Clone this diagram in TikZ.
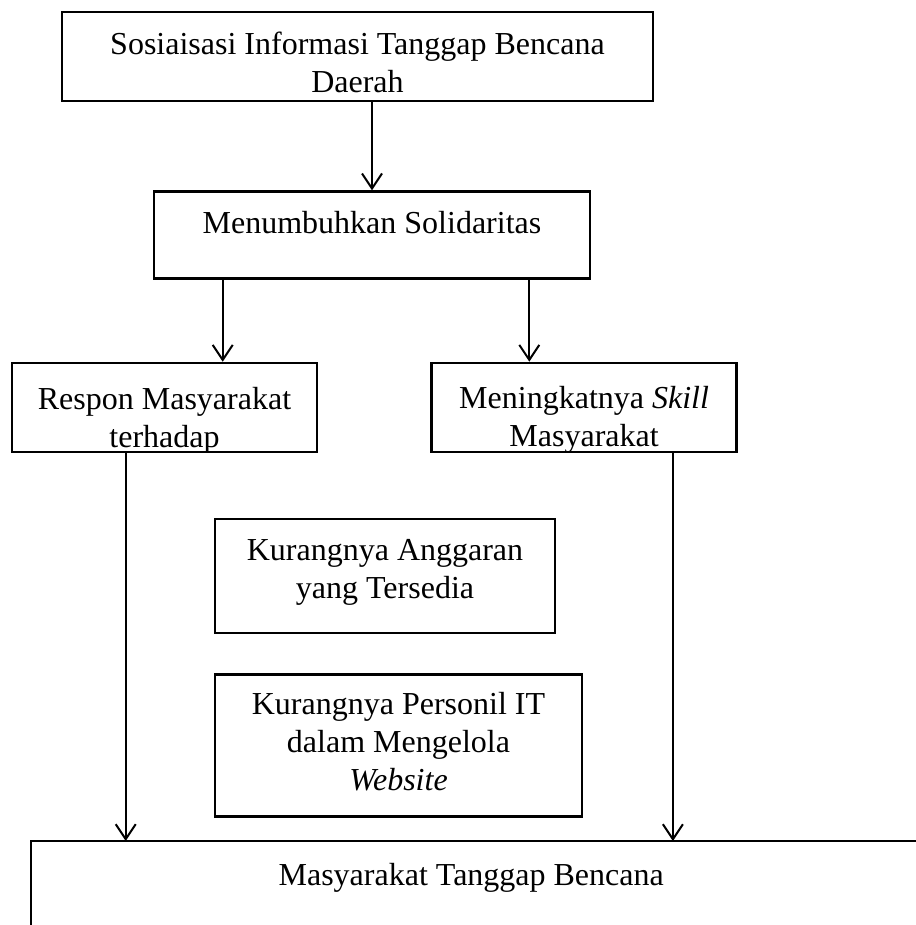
\documentclass[tikz,border=0pt]{standalone}
\usepackage{fontspec}
\setmainfont{Liberation Serif}
\usepackage{tikz}
\usetikzlibrary{arrows.meta,positioning}

\begin{document}
\begin{tikzpicture}[x=1pt,y=1pt,node distance=40pt,>={Straight Barb[length=15pt,width=20pt]}]
  \tikzstyle{boxtext}=[font=\fontsize{32pt}{38pt}\selectfont,align=center,inner sep=0pt]
  \tikzstyle{box}=[draw=black,line width=2.6pt,inner sep=0pt]
  \tikzstyle{flow}=[->,line width=2pt]
  % text sits on its last baseline, #1 below the top of the box
  \tikzset{inbox/.style 2 args={path picture={\node[boxtext,anchor=base] at ([yshift=#1]path picture bounding box.north) {#2};}}}
  \useasboundingbox (0,0) rectangle (915,-925);
  \node[box,minimum width=591pt,minimum height=89pt,inbox={-81pt}{Sosiaisasi Informasi Tanggap Bencana\\Daerah}] (sos) at (357.5,-56.5) {};
  \node[box,minimum width=436pt,minimum height=87pt,inbox={-42pt}{Menumbuhkan Solidaritas},below=88pt of sos,xshift=14.5pt] (solid) {};
  \node[box,minimum width=305pt,minimum height=89pt,inbox={-84pt}{Respon Masyarakat\\terhadap}] (respon) at (164.5,-407.5) {};
  \node[box,minimum width=305pt,minimum height=89pt,inbox={-83pt}{Meningkatnya \textit{Skill}\\Masyarakat},right=112pt of respon] (skill) {};
  \node[box,minimum width=340pt,minimum height=114pt,inbox={-79pt}{Kurangnya Anggaran\\yang Tersedia}] (dana) at (385,-576) {};
  \node[box,minimum width=367pt,minimum height=142pt,inbox={-116pt}{Kurangnya Personil IT\\dalam Mengelola\\\textit{Website}},below=39pt of dana,xshift=13.5pt] (staf) {};
  % bottom box runs off the page
  \node[boxtext,anchor=north west,minimum width=880pt,text height=44pt,text depth=44pt] (mtb) at (31,-841) {Masyarakat Tanggap Bencana};
  \draw[box] ([yshift=-40pt]mtb.south west) -- (mtb.north west) -- ([xshift=30pt]mtb.north east);
  \coordinate (lin) at ([xshift=70pt]solid.south west);
  \coordinate (rin) at ([xshift=-62pt]solid.south east);
  \coordinate (lout) at ([xshift=115pt]respon.south west);
  \coordinate (rout) at ([xshift=-65pt]skill.south east);
  \draw[flow] (solid.north |- sos.south) -- (solid.north);
  \draw[flow] (lin) -- (lin |- respon.north);
  \draw[flow] (rin) -- (rin |- skill.north);
  \draw[flow] (lout) -- (lout |- mtb.north);
  \draw[flow] (rout) -- (rout |- mtb.north);
\end{tikzpicture}
\end{document}
